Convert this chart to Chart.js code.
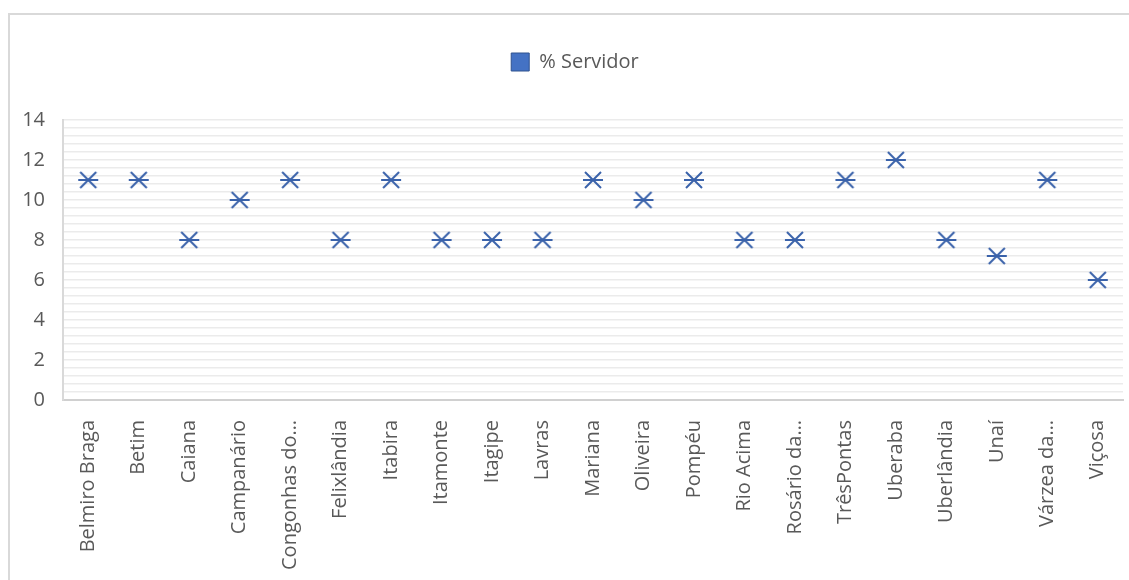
<!DOCTYPE html>
<html>
<head>
<meta charset="utf-8">
<script src="https://cdn.jsdelivr.net/npm/chart.js@4/dist/chart.umd.min.js"></script>
<style>
    html, body { margin: 0; padding: 0; background: #fff; overflow: hidden; }
    #frame {
        position: absolute; left: 8px; top: 13px; width: 1140px; height: 600px;
        border: 2px solid #d9d9d9; box-sizing: border-box;
    }
    #wrap { position: absolute; left: 0; top: 0; width: 1129px; height: 580px; }
</style>
</head>
<body>
<div id="frame"></div>
<div id="wrap"><canvas id="chart" width="1129" height="580"></canvas></div>
<script>
const cidades = [
    'Belmiro Braga', 'Betim', 'Caiana', 'Campanário', 'Congonhas do…',
    'Felixlândia', 'Itabira', 'Itamonte', 'Itagipe', 'Lavras', 'Mariana',
    'Oliveira', 'Pompéu', 'Rio Acima', 'Rosário da…', 'TrêsPontas',
    'Uberaba', 'Uberlândia', 'Unaí', 'Várzea da…', 'Viçosa'
];
const servidor = [11, 11, 8, 10, 11, 8, 11, 8, 8, 8, 11, 10, 11, 8, 8, 11, 12, 8, 7.2, 11, 6];
const serie_nome = '% Servidor';
const y_max = 14;

// marcador: X com um traço horizontal no meio
function marcador() {
    const c = document.createElement('canvas');
    c.width = 22;
    c.height = 18;
    const ctx = c.getContext('2d');
    ctx.strokeStyle = '#3A62AA';
    ctx.lineWidth = 2;
    ctx.beginPath();
    ctx.moveTo(3, 1); ctx.lineTo(19, 17);
    ctx.moveTo(3, 17); ctx.lineTo(19, 1);
    ctx.moveTo(1, 9); ctx.lineTo(21, 9);
    ctx.stroke();
    return c;
}

const texto = '#595959';
const fonte = "'Open Sans', 'Liberation Sans', sans-serif";

new Chart(document.getElementById('chart'), {
    type: 'line',
    data: {
        labels: cidades,
        datasets: [{
            label: serie_nome,
            data: servidor,
            showLine: false,
            pointStyle: marcador(),
            backgroundColor: '#4472C4',
            borderColor: '#2F528F',
            borderWidth: 1
        }]
    },
    options: {
        responsive: false,
        animation: false,
        layout: { padding: { left: 21, right: 0, top: 4, bottom: 0 } },
        plugins: {
            tooltip: { enabled: false },
            legend: {
                labels: {
                    boxWidth: 18,
                    boxHeight: 18,
                    color: texto,
                    font: { family: fonte, size: 20 },
                    padding: 48
                },
                onClick: null
            },
            // espaço vazio entre a legenda e a área do gráfico
            subtitle: {
                display: true,
                text: ' ',
                weight: 500,
                font: { size: 10 },
                padding: { top: 13, bottom: 13 }
            }
        },
        scales: {
            x: {
                offset: true,
                grid: { display: false },
                border: { color: '#d0d0d0', width: 2 },
                ticks: {
                    color: texto,
                    font: { family: fonte, size: 20 },
                    minRotation: 90,
                    maxRotation: 90,
                    autoSkip: false,
                    padding: 12
                },
                afterFit: s => {
                    s.height = 180;
                    s.paddingLeft = 0;
                    s.paddingRight = 6;
                }
            },
            y: {
                min: 0,
                max: y_max,
                grid: { color: '#ebebeb', lineWidth: 1.5, drawTicks: false },
                border: { color: '#d9d9d9', width: 2 },
                ticks: {
                    stepSize: 0.4,
                    autoSkip: false,
                    color: texto,
                    font: { family: fonte, size: 20 },
                    padding: 18,
                    callback: v => {
                        const r = Math.round(v);
                        return (Math.abs(v - r) < 1e-6 && r % 2 === 0) ? r : '';
                    }
                },
                afterFit: s => { s.width = 42; }
            }
        }
    }
});
</script>
</body>
</html>
